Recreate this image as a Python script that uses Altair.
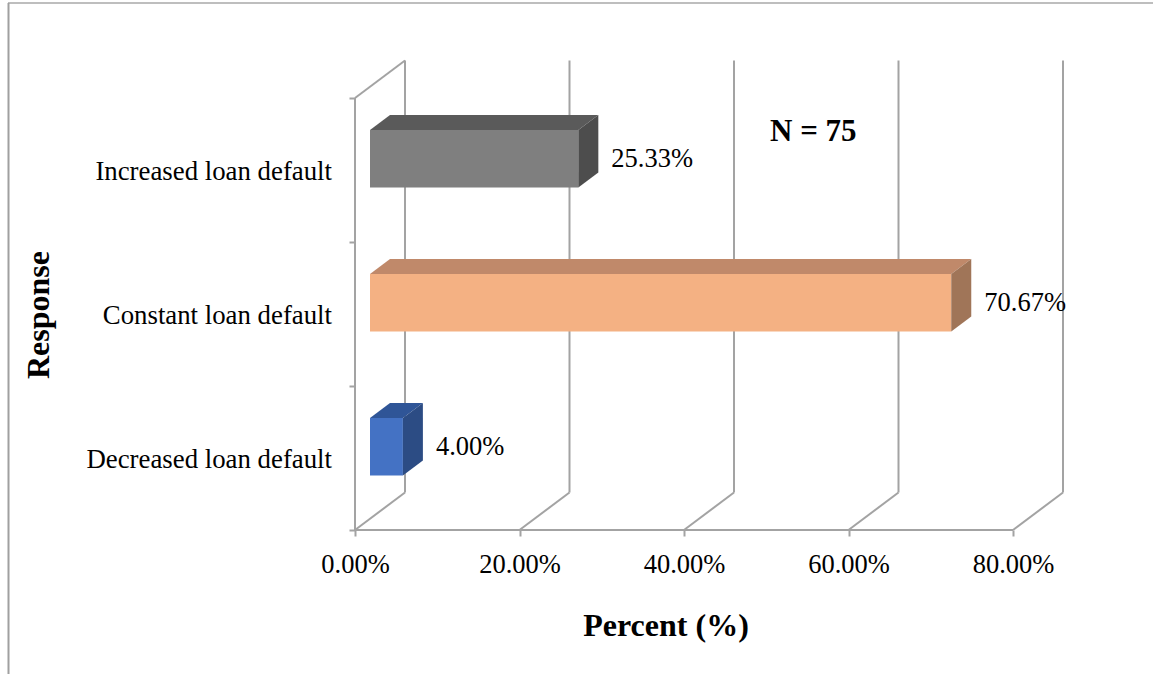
import altair as alt
import pandas as pd

# ---- data ----
CATEGORIES = ["Decreased loan default", "Constant loan default", "Increased loan default"]
VALUES = [4.00, 70.67, 25.33]
X_TICKS = [0, 20, 40, 60, 80]
Y_SLOTS = [0, 1, 2, 3]
N_LABEL = "N = 75"
X_TITLE = "Percent (%)"
Y_TITLE = "Response"

# ---- styles ----
FRONT = ["#4472c4", "#f4b183", "#7f7f7f"]
TOP = ["#2f5597", "#c0896a", "#5a5a5a"]
SIDE = ["#2c4c84", "#a07558", "#4d4d4d"]
LINE = "#a3a3a3"
FONT = "Liberation Serif"

W, H = 708, 470
XMAX = 80 * W / 658.0
YMAX = H / 144.0
DX = 80 * 50 / 658.0        # depth offset in x units
DY = 37.5 / 144.0           # depth offset in y units
D0, D1 = 0.3, 0.7           # bar depth range
B0, B1 = 0.3, 0.7           # bar thickness inside slot

xs = alt.Scale(domain=[0, XMAX], nice=False, zero=False)
ys = alt.Scale(domain=[0, YMAX], nice=False, zero=False)
xaxis = alt.Axis(values=X_TICKS, grid=False, domain=False, tickColor=LINE, tickWidth=2,
                 tickSize=6, labelFont=FONT, labelFontSize=26.5, labelColor="#000",
                 labelPadding=15, labelExpr="format(datum.value, '.2f') + '%'", title=None,
                 labelFlush=False, labelOverlap=False)
yaxis = alt.Axis(values=Y_SLOTS, grid=False, domain=False, tickColor=LINE, tickWidth=2,
                 tickSize=6, labels=False, title=None)

# ---- frame lines (walls, floor, gridlines) ----
lines = []
for t in X_TICKS:
    lines.append(dict(x=t + DX, y=DY, x2=t + DX, y2=Y_SLOTS[-1] + DY))  # back gridline
    lines.append(dict(x=t, y=0, x2=t + DX, y2=DY))                       # floor diagonal
lines.append(dict(x=0, y=0, x2=X_TICKS[-1], y2=0))                      # front floor edge
lines.append(dict(x=0, y=0, x2=0, y2=Y_SLOTS[-1]))                      # front wall edge
lines.append(dict(x=0, y=Y_SLOTS[-1], x2=DX, y2=Y_SLOTS[-1] + DY))      # top wall diagonal
lines_df = pd.DataFrame(lines)

rules = alt.Chart(lines_df).mark_rule(color=LINE, strokeWidth=2).encode(
    x=alt.X("x:Q", scale=xs, axis=xaxis),
    y=alt.Y("y:Q", scale=ys, axis=yaxis),
    x2="x2:Q", y2="y2:Q",
)

# ---- bars ----
front_rows, top_rows, side_rows, lab_rows = [], [], [], []
for i, (c, v) in enumerate(zip(CATEGORIES, VALUES)):
    fx, fy = DX * D0, DY * D0
    bx, by = DX * D1, DY * D1
    front_rows.append(dict(cat=c, x=fx, x2=v + fx, y=i + B0 + fy, y2=i + B1 + fy))
    top_rows.append(dict(cat=c, y=i + B1 + fy, xa=fx, xb=v + fx))
    top_rows.append(dict(cat=c, y=i + B1 + by, xa=bx, xb=v + bx))
    side_rows.append(dict(cat=c, x=v + fx, ya=i + B0 + fy, yb=i + B1 + fy))
    side_rows.append(dict(cat=c, x=v + bx, ya=i + B0 + by, yb=i + B1 + by))
    lab_rows.append(dict(cat=c, x=v + bx, y=i + 0.5 + fy, label=f"{v:.2f}%"))

def col(rng):
    return alt.Color("cat:N", scale=alt.Scale(domain=CATEGORIES, range=rng), legend=None)

front = alt.Chart(pd.DataFrame(front_rows)).mark_rect().encode(
    x=alt.X("x:Q", scale=xs, axis=xaxis), x2="x2:Q",
    y=alt.Y("y:Q", scale=ys, axis=yaxis), y2="y2:Q",
    color=col(FRONT),
)
top = alt.Chart(pd.DataFrame(top_rows)).mark_area(orient="horizontal").encode(
    y=alt.Y("y:Q", scale=ys, axis=yaxis),
    x=alt.X("xa:Q", scale=xs, axis=xaxis), x2="xb:Q",
    detail="cat:N", color=col(TOP),
)
side = alt.Chart(pd.DataFrame(side_rows)).mark_area(orient="vertical").encode(
    x=alt.X("x:Q", scale=xs, axis=xaxis),
    y=alt.Y("ya:Q", scale=ys, axis=yaxis), y2="yb:Q",
    detail="cat:N", color=col(SIDE),
)
labels = alt.Chart(pd.DataFrame(lab_rows)).mark_text(
    align="left", baseline="middle", dx=13, font=FONT, fontSize=26.5, color="#000"
).encode(
    x=alt.X("x:Q", scale=xs, axis=xaxis),
    y=alt.Y("y:Q", scale=ys, axis=yaxis),
    text="label:N",
)

cat_df = pd.DataFrame({"cat": CATEGORIES, "pos": [i + 0.5 for i in range(len(CATEGORIES))]})
cat_labels = alt.Chart(cat_df).mark_text(
    align="right", baseline="middle", dy=2, font=FONT, fontSize=26.8, color="#000"
).encode(
    x=alt.value(-23),
    y=alt.Y("pos:Q", scale=ys, axis=yaxis),
    text="cat:N",
)

ann_df = pd.DataFrame({"t": [N_LABEL, X_TITLE, Y_TITLE]})
n_text = alt.Chart(ann_df).transform_filter(alt.datum.t == N_LABEL).mark_text(
    align="left", baseline="middle", font=FONT, fontSize=31, fontWeight="bold", color="#000"
).encode(x=alt.value(415), y=alt.value(72), text="t:N")
x_title = alt.Chart(ann_df).transform_filter(alt.datum.t == X_TITLE).mark_text(
    align="center", baseline="middle", font=FONT, fontSize=32, fontWeight="bold", color="#000"
).encode(x=alt.value(311), y=alt.value(566), text="t:N")
y_title = alt.Chart(ann_df).transform_filter(alt.datum.t == Y_TITLE).mark_text(
    align="center", baseline="middle", angle=270, font=FONT, fontSize=32, fontWeight="bold", color="#000"
).encode(x=alt.value(-316), y=alt.value(255), text="t:N")

border_top = alt.Chart(ann_df).transform_filter(alt.datum.t == N_LABEL).mark_rule(
    color="#a8a8a8", strokeWidth=1.5
).encode(x=alt.value(-347), x2=alt.value(W + 90), y=alt.value(-57))
border_left = alt.Chart(ann_df).transform_filter(alt.datum.t == N_LABEL).mark_rule(
    color="#a0a0a0", strokeWidth=2
).encode(x=alt.value(-346.5), y=alt.value(-57), y2=alt.value(H + 144))

chart = alt.layer(
    rules, front, top, side, labels, cat_labels, n_text, x_title, y_title, border_top, border_left
).resolve_scale(color="independent").properties(
    width=W, height=H,
    padding={"left": 355, "top": 60, "right": 90, "bottom": 144},
    autosize=alt.AutoSizeParams(type="none"),
    background="#ffffff",
).configure_view(strokeWidth=0)

chart.save("out.html", embed_options={"renderer": "svg", "actions": False})
